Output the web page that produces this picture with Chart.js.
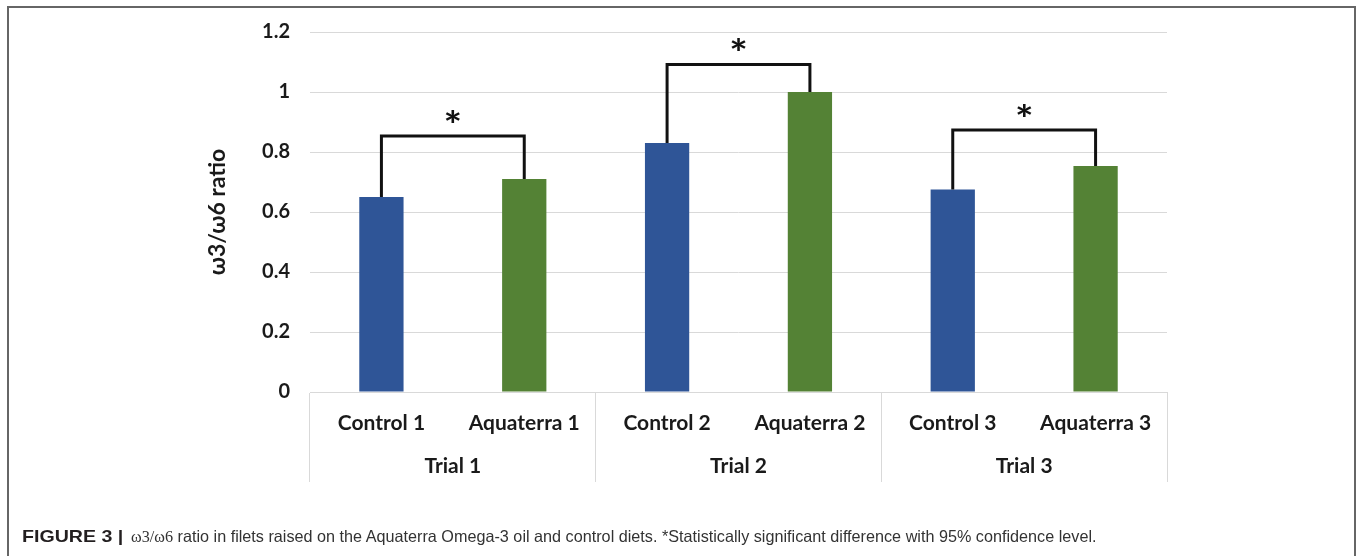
<!DOCTYPE html>
<html>
<head>
<meta charset="utf-8">
<script src="https://cdn.jsdelivr.net/npm/chart.js@4"></script>
<style>
html,body{margin:0;padding:0;width:1360px;height:556px;overflow:hidden;background:#fff;}
#frame{position:absolute;left:7px;top:6px;width:1345px;height:600px;border:2px solid #666;}
#chart{position:absolute;left:0;top:0;}
.cap{position:absolute;top:527px;font-family:"Liberation Sans",Arial,sans-serif;font-size:16.5px;line-height:19px;white-space:nowrap;transform-origin:0 0;}
#capB{left:22px;color:#231f20;font-weight:bold;}
#capR{left:131px;color:#333;}
#capR .g{font-family:"Liberation Serif","DejaVu Serif",serif;}
</style>
</head>
<body>
<div id="frame"></div>
<canvas id="chart" width="1360" height="556"></canvas>
<div id="capB" class="cap">FIGURE 3 |</div>
<div id="capR" class="cap"><span class="g">ω3/ω6</span> ratio in filets raised on the Aquaterra Omega-3 oil and control diets. *Statistically significant difference with 95% confidence level.</div>
<script>
// ---- data ----
const categories = ['Control 1', 'Aquaterra 1', 'Control 2', 'Aquaterra 2', 'Control 3', 'Aquaterra 3'];
const trials = ['Trial 1', 'Trial 2', 'Trial 3'];
const ratioValues = [0.65, 0.71, 0.83, 1.0, 0.675, 0.753];
const barColors = ['#2F5597', '#548235', '#2F5597', '#548235', '#2F5597', '#548235'];
const bracketPairs = [[0, 1], [2, 3], [4, 5]];
const bracketTops = [0.853, 1.092, 0.873];
const stars = ['*', '*', '*'];
const yTickLabels = ['0', '0.2', '0.4', '0.6', '0.8', '1', '1.2'];

const textColor = '#1a1a1a';
const gridColor = '#d9d9d9';
const fontFamily = 'Lato, "Open Sans", "Liberation Sans", sans-serif';

const bracketDatasets = bracketPairs.map((p, i) => ({
  type: 'line',
  xAxisID: 'x',
  data: [
    {x: categories[p[0]], y: ratioValues[p[0]]},
    {x: categories[p[0]], y: bracketTops[i]},
    {x: categories[p[1]], y: bracketTops[i]},
    {x: categories[p[1]], y: ratioValues[p[1]]}
  ],
  borderColor: '#111',
  borderWidth: 3,
  pointRadius: 0,
  borderJoinStyle: 'miter',
  borderCapStyle: 'butt',
  tension: 0,
  fill: false,
  order: 1
}));

const starPlugin = {
  id: 'stars',
  afterDatasetsDraw(chart) {
    const {ctx} = chart;
    const x = chart.scales.x, y = chart.scales.y;
    ctx.save();
    ctx.font = 'bold 38px ' + fontFamily;
    ctx.fillStyle = '#111';
    ctx.textAlign = 'center';
    ctx.textBaseline = 'alphabetic';
    bracketPairs.forEach((p, i) => {
      const px = (x.getPixelForValue(p[0]) + x.getPixelForValue(p[1])) / 2;
      const py = y.getPixelForValue(bracketTops[i]);
      ctx.save();
      ctx.translate(px, py + 3);
      ctx.scale(1.15, 1);
      ctx.fillText(stars[i], 0, 0);
      ctx.restore();
    });
    ctx.restore();
  }
};

new Chart(document.getElementById('chart'), {
  type: 'bar',
  data: {
    labels: categories,
    datasets: [{
      type: 'bar',
      xAxisID: 'x',
      data: ratioValues,
      backgroundColor: barColors,
      borderWidth: 0,
      barPercentage: 0.31,
      categoryPercentage: 1.0,
      order: 2
    }, ...bracketDatasets]
  },
  options: {
    responsive: false,
    animation: false,
    events: [],
    layout: {padding: {left: 200, top: 32, right: 193, bottom: 74}},
    plugins: {legend: {display: false}, tooltip: {enabled: false}},
    scales: {
      x: {
        type: 'category',
        position: 'bottom',
        offset: true,
        weight: 1,
        border: {display: true, color: gridColor, width: 1},
        grid: {
          offset: true,
          drawOnChartArea: false,
          drawTicks: true,
          tickLength: 90,
          lineWidth: 1,
          color: (c) => (c.index === undefined || c.index % 2 === 0) ? gridColor : 'rgba(0,0,0,0)',
          tickColor: (c) => (c.index === undefined || c.index % 2 === 0) ? gridColor : 'rgba(0,0,0,0)'
        },
        ticks: {
          color: textColor,
          font: {family: fontFamily, size: 21, weight: 'bold'},
          padding: -71,
          maxRotation: 0,
          autoSkip: false
        },
        afterFit: (s) => { s.height = 50; }
      },
      x2: {
        type: 'category',
        position: 'bottom',
        labels: trials,
        offset: true,
        weight: 2,
        border: {display: false},
        grid: {display: false, drawTicks: false},
        ticks: {
          color: textColor,
          font: {family: fontFamily, size: 21, weight: 'bold'},
          padding: 12,
          maxRotation: 0,
          autoSkip: false
        },
        afterFit: (s) => { s.height = 40; }
      },
      y: {
        min: 0,
        max: 1.2,
        border: {display: false},
        grid: {color: gridColor, lineWidth: 1, drawTicks: false},
        ticks: {
          stepSize: 0.2,
          color: textColor,
          font: {family: fontFamily, size: 20, weight: 'bold'},
          padding: 20,
          callback: (v, i) => yTickLabels[i]
        },
        title: {
          display: true,
          text: 'ω3/ω6 ratio',
          color: textColor,
          font: {family: fontFamily, size: 23, weight: 'bold'},
          padding: {top: 4, bottom: 0}
        },
        afterFit: (s) => { s.width = 110; }
      }
    }
  },
  plugins: [starPlugin]
});

// fit caption parts to the reference widths
const capB = document.getElementById('capB');
capB.style.transform = 'scaleX(' + (101 / capB.scrollWidth) + ')';
const capR = document.getElementById('capR');
capR.style.transform = 'scaleX(' + (966 / capR.scrollWidth) + ')';
</script>
</body>
</html>
